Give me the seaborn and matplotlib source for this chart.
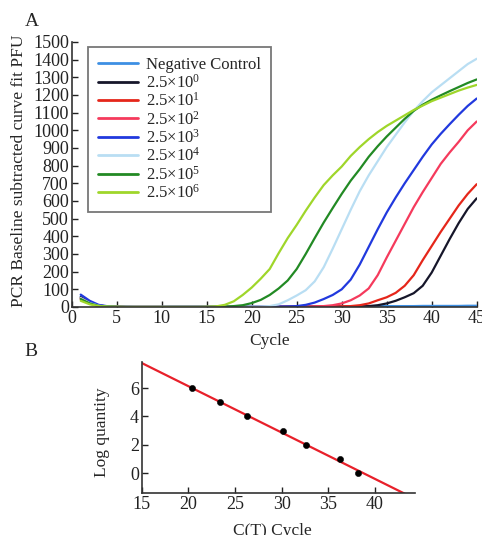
import numpy as np
import pandas as pd
import matplotlib
matplotlib.use('Agg')
import matplotlib.pyplot as plt
import seaborn as sns

sns.set_theme(style='ticks')
plt.rcParams['font.family'] = ['Liberation Serif', 'DejaVu Serif']
plt.rcParams['mathtext.default'] = 'regular'

# panel A: amplification curves, one value per cycle (1..45)
cycles = list(range(1, 46))

neg_control = [60, 25, 8, 3, 2, 2, 1, 1, 1, 1, 2, 2, 2, 2, 2,
               2, 2, 2, 3, 3, 3, 3, 3, 3, 3, 4, 4, 4, 4, 4,
               4, 4, 5, 5, 5, 5, 5, 5, 6, 6, 6, 6, 6, 7, 7]
dil_e0 = [55, 25, 8, 3, 1, 0, 0, 0, 0, 0, 0, 0, 0, 0, 0,
          0, 0, 0, 0, 0, 0, 0, 0, 1, 1, 1, 1, 1, 1, 2,
          2, 3, 5, 10, 20, 35, 55, 78, 120, 195, 290, 385, 475, 555, 615]
dil_e1 = [50, 22, 7, 2, 1, 0, 0, 0, 0, 0, 0, 0, 0, 0, 0,
          0, 0, 0, 0, 0, 0, 0, 1, 1, 1, 1, 2, 2, 3, 4,
          5, 10, 20, 38, 55, 80, 120, 180, 265, 345, 425, 500, 575, 640, 695]
dil_e2 = [45, 20, 6, 2, 1, 0, 0, 0, 0, 0, 0, 0, 0, 0, 0,
          0, 0, 0, 0, 0, 1, 1, 1, 1, 2, 2, 3, 5, 10, 20,
          38, 65, 105, 180, 280, 375, 470, 565, 650, 730, 810, 875, 935, 1000, 1050]
dil_e3 = [70, 35, 12, 4, 1, 0, 0, 0, 0, 0, 0, 0, 0, 0, 0,
          0, 0, 0, 0, 1, 1, 1, 2, 3, 5, 12, 25, 45, 68, 100,
          155, 240, 340, 440, 535, 620, 700, 775, 850, 920, 980, 1035, 1088, 1138, 1180]
dil_e4 = [50, 22, 7, 2, 1, 0, 0, 0, 0, 0, 0, 0, 0, 0, 0,
          0, 0, 1, 1, 2, 3, 5, 15, 38, 65, 95, 145, 225, 330, 440,
          550, 655, 745, 825, 905, 975, 1045, 1110, 1165, 1215, 1255, 1295, 1335, 1375, 1405]
dil_e5 = [45, 20, 6, 2, 1, 0, 0, 0, 0, 0, 0, 0, 0, 0, 0,
          1, 2, 5, 10, 22, 40, 68, 105, 150, 215, 300, 390, 478, 560, 640,
          715, 780, 850, 910, 965, 1015, 1065, 1110, 1145, 1173, 1198, 1222, 1245, 1268, 1288]
dil_e6 = [35, 15, 5, 2, 1, 0, 0, 0, 0, 0, 0, 0, 0, 0, 1,
          3, 12, 32, 68, 110, 160, 215, 305, 390, 465, 545, 620, 690, 745, 795,
          855, 905, 950, 990, 1025, 1055, 1085, 1115, 1140, 1165, 1185, 1205, 1225, 1242, 1257]

labels = ['Negative Control', '2.5×10$^{0}$', '2.5×10$^{1}$', '2.5×10$^{2}$',
          '2.5×10$^{3}$', '2.5×10$^{4}$', '2.5×10$^{5}$', '2.5×10$^{6}$']
colors = ['#3d8fe3', '#16162a', '#e5261a', '#f53a5c', '#2139de',
          '#b9def3', '#228a24', '#9fd62a']

# panel B: standard curve
ct_values = [20.36, 23.4, 26.3, 30.1, 32.6, 36.3, 38.2]
log_qty = [6, 5, 4, 3, 2, 1, 0]

series = [neg_control, dil_e0, dil_e1, dil_e2, dil_e3, dil_e4, dil_e5, dil_e6]
df = pd.DataFrame({
    'Cycle': cycles * len(series),
    'PFU': sum(series, []),
    'Sample': np.repeat(labels, len(cycles)),
})

fig = plt.figure(figsize=(4.82, 5.35), dpi=100)

ax1 = fig.add_axes([0.1488, 0.4262, 0.8402, 0.4953])
sns.lineplot(data=df, x='Cycle', y='PFU', hue='Sample', hue_order=labels,
             palette=dict(zip(labels, colors)), linewidth=1.6, ax=ax1)
ax1.set_xlim(0, 45)
ax1.set_ylim(0, 1500)
ax1.set_xticks(range(0, 50, 5))
ax1.set_yticks(range(0, 1600, 100))
sns.despine(ax=ax1)
ax1.tick_params(direction='in', length=4, width=1, labelsize=13, pad=2,
                colors='#222')
for s in ax1.spines.values():
    s.set_linewidth(1.2)
    s.set_color('#333')
ax1.set_xlabel('Cycle', fontsize=12.5)
ax1.set_ylabel('PCR Baseline subtracted curve fit PFU', fontsize=12.5)
ax1.xaxis.set_label_coords(270 / 482, 1 - 341 / 535, transform=fig.transFigure)
ax1.xaxis.label.set_va('center')
ax1.yaxis.set_label_coords(19 / 482, 1 - 171 / 535, transform=fig.transFigure)
ax1.yaxis.label.set_va('center')

sns.move_legend(ax1, 'upper left', bbox_to_anchor=(0.04, 0.981), title=None,
                frameon=True, fancybox=False, fontsize=12, handlelength=2.4,
                handletextpad=0.5, labelspacing=0.03, borderpad=0.6,
                borderaxespad=0)
leg = ax1.get_legend()
leg.get_frame().set_edgecolor('#555')
leg.get_frame().set_linewidth(1.3)
for line in leg.get_lines():
    line.set_linewidth(2)

fig.text(32 / 482, 1 - 21 / 535, 'A', fontsize=14, ha='center', va='center')
fig.text(31 / 482, 1 - 352 / 535, 'B', fontsize=14, ha='center', va='center')

ax2 = fig.add_axes([0.294, 0.0779, 0.567, 0.246])
ax2.set_xlim(15, 44.3)
ax2.set_ylim(-1.4, 7.85)
sns.regplot(x=ct_values, y=log_qty, ax=ax2, scatter=False, ci=None,
            truncate=False, color='#e8202a', line_kws=dict(lw=1.6))
sns.scatterplot(x=ct_values, y=log_qty, ax=ax2, color='black', s=20,
                edgecolor='black', zorder=3)
ax2.set_xlim(15, 44.3)
ax2.set_ylim(-1.4, 7.85)
ax2.set_xticks(range(15, 45, 5))
ax2.set_yticks([0, 2, 4, 6])
sns.despine(ax=ax2)
ax2.tick_params(direction='in', length=4, width=1, labelsize=13, pad=2,
                colors='#222')
for s in ax2.spines.values():
    s.set_linewidth(1.2)
    s.set_color('#333')
ax2.set_xlabel('C(T) Cycle', fontsize=12.5)
ax2.set_ylabel('Log quantity', fontsize=12.5)
ax2.xaxis.set_label_coords(272 / 482, 1 - 531 / 535, transform=fig.transFigure)
ax2.xaxis.label.set_va('center')
ax2.yaxis.set_label_coords(102 / 482, 1 - 432 / 535, transform=fig.transFigure)
ax2.yaxis.label.set_va('center')

fig.savefig('out.png', dpi=100)
